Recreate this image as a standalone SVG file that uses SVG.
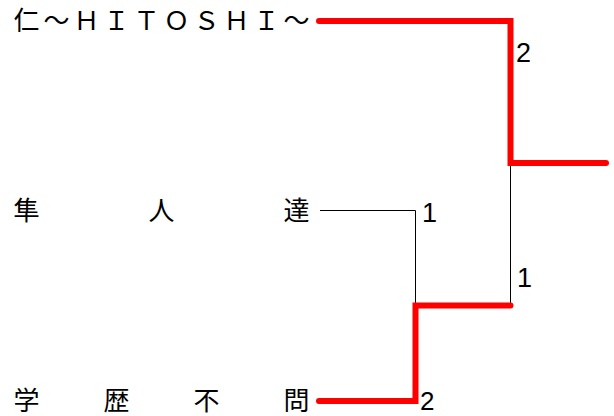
<svg xmlns="http://www.w3.org/2000/svg" width="614" height="416" viewBox="0 0 614 416">
<style>
.name{font-family:"Noto Sans CJK JP","Noto Sans CJK SC",sans-serif;font-size:26px;fill:#000;text-anchor:middle}
.score{font-family:"Liberation Sans",Arial,sans-serif;font-size:27px;fill:#000}
.win{fill:none;stroke:#ff0000;stroke-width:6;stroke-linecap:round;stroke-linejoin:miter}
.lose{fill:none;stroke:#000;stroke-width:1}
</style>
<rect width="614" height="416" fill="#fff"/>
<g id="connectors">
<path class="lose" d="M320,210.5 H415.5 V305.5"/>
<path class="lose" d="M510.5,163 V305.5"/>
<path class="win" d="M319,21 H510.5 V163 H606"/>
<path class="win" d="M319,401 H415.5 V305.5 H510.5"/>
</g>
<g id="node-hitoshi">
<text class="name" x="26.5 56.5 86.5 116.5 146.5 176.5 206.5 236.5 266.5 296.5" y="30">仁～ＨＩＴＯＳＨＩ～</text>
</g>
<g id="node-hayato">
<text class="name" x="26.5 161.5 296.5" y="220">隼人達</text>
</g>
<g id="node-gakureki">
<text class="name" x="26.5 116.5 206.5 296.5" y="410">学歴不問</text>
</g>
<g id="scores">
<text class="score" x="516" y="62">2</text>
<text class="score" x="422" y="222">1</text>
<text class="score" x="517" y="287">1</text>
<text class="score" x="420" y="410" style="font-size:26px">2</text>
</g>
</svg>
